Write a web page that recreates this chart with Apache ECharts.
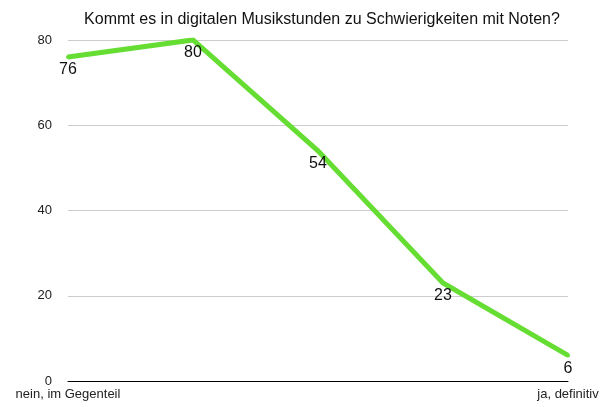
<!DOCTYPE html>
<html>
<head>
<meta charset="utf-8">
<script src="https://cdn.jsdelivr.net/npm/echarts@6/dist/echarts.min.js"></script>
<style>
  html, body { margin: 0; padding: 0; background: #fff; }
  #main { width: 611px; height: 407px; }
</style>
</head>
<body>
<div id="main"></div>
<script>
// Daten
const categories = ['nein, im Gegenteil', '', '', '', 'ja, definitiv'];
const values = [76, 80, 54, 23, 6];
const yTicks = [0, 20, 40, 60, 80];

const chart = echarts.init(document.getElementById('main'), null, { renderer: 'canvas' });

const option = {
  animation: false,
  textStyle: { fontFamily: 'Liberation Sans, Arial, sans-serif' },
  title: {
    text: 'Kommt es in digitalen Musikstunden zu Schwierigkeiten mit Noten?',
    left: 317,
    textAlign: 'center',
    top: 7,
    textStyle: { fontSize: 16, fontWeight: 'normal', color: '#111' },
  },
  grid: { left: 68, right: 43, top: 40, bottom: 26 },
  xAxis: {
    type: 'category',
    data: categories,
    boundaryGap: false,
    axisLine: { lineStyle: { color: '#000', width: 1 } },
    axisTick: { show: false },
    axisLabel: { interval: 0, fontSize: 13, color: '#222', margin: 7 },
  },
  yAxis: {
    type: 'value',
    min: yTicks[0],
    max: yTicks[yTicks.length - 1],
    interval: 20,
    axisLine: { show: false },
    axisTick: { show: false },
    axisLabel: { fontSize: 13, color: '#222', margin: 16 },
    splitLine: { lineStyle: { color: '#cccccc', width: 1 } },
  },
  series: [
    {
      type: 'line',
      data: values,
      symbol: 'circle',
      symbolSize: 4,
      showSymbol: true,
      itemStyle: { color: '#66dd33', borderWidth: 0 },
      lineStyle: { color: '#66dd33', width: 5, join: 'miter' },
      label: {
        show: true,
        position: 'bottom',
        distance: 3,
        fontSize: 16,
        color: '#111',
      },
    },
  ],
};

chart.setOption(option);
</script>
</body>
</html>
